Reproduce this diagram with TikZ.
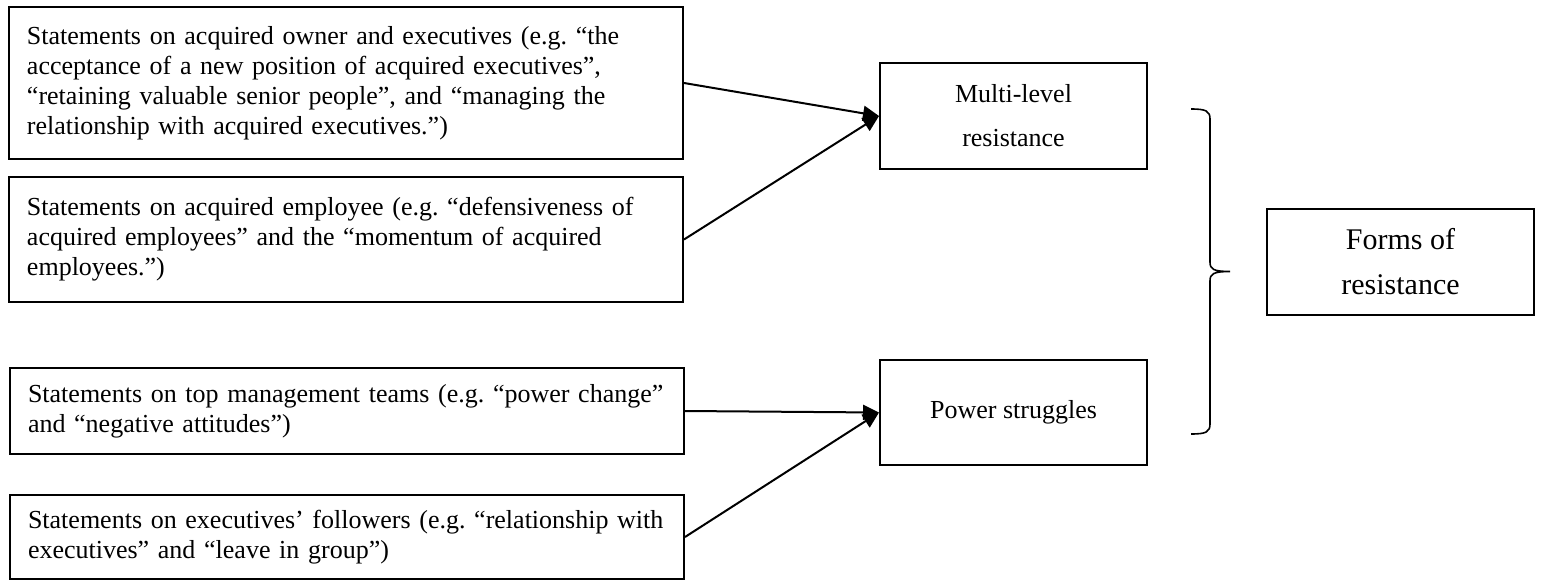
\documentclass[tikz,border=0pt]{standalone}
\usepackage{fontspec}
\setmainfont{Liberation Serif}
\usetikzlibrary{arrows.meta}
\frenchspacing

\begin{document}
\begin{tikzpicture}[x=1pt, y=-1pt,
  srcbox/.style={draw, line width=2pt, inner xsep=18pt, inner ysep=0pt,
    text width=638pt, align=left, font=\fontsize{26}{30}\selectfont\frenchspacing},
  formbox/.style={draw, line width=2pt, inner sep=0pt, minimum width=267pt,
    align=center, font=\fontsize{26}{44}\selectfont},
  sumbox/.style={draw, line width=2pt, inner sep=0pt, minimum width=267pt,
    minimum height=106pt, align=center, font=\fontsize{30}{45}\selectfont},
  link/.style={line width=2pt, -{Triangle[length=16pt,width=15pt]}},
  bracepath/.style={line width=1.6pt}
]
\useasboundingbox (0,0) rectangle (1543,581);

% statement boxes on the left
\node[srcbox, minimum height=152pt] (owner) at (346,83)
  {Statements on acquired owner and executives (e.g. “the\\
   acceptance of a new position of acquired executives”,\\
   “retaining valuable senior people”, and “managing the\\
   relationship with acquired executives.”)};
\node[srcbox, minimum height=125pt] (employee) at (346,239.5)
  {Statements on acquired employee (e.g. “defensiveness of\\
   acquired employees” and the “momentum of acquired\\
   employees.”)};
\node[srcbox, minimum height=86pt] (tmt) at (347,411)
  {\mbox{Statements on top management teams (e.g. “power change”}\\
   and “negative attitudes”)};
\node[srcbox, minimum height=84pt] (followers) at (347,537)
  {\mbox{Statements on executives’ followers (e.g. “relationship with}\\
   executives” and “leave in group”)};

% forms of resistance
\node[formbox, minimum height=106pt] (multi) at (1013.5,116)
  {Multi-level\\resistance};
\node[formbox, minimum height=105pt] (power) at (1013.5,412.5)
  {Power struggles};
\node[sumbox] (forms) at (1400.5,262) {Forms of\\resistance};

% connectors
\draw[link] (owner.east) -- (multi.west);
\draw[link] (employee.east) -- (multi.west);
\draw[link] (tmt.east) -- (power.west);
\draw[link] (followers.east) -- (power.west);

% grouping brace
\coordinate (btop) at (1191,109);
\coordinate (btip) at (1230,271.5);
\coordinate (bbot) at (1191,434);
\draw[bracepath] (btop) .. controls (1206,109) and (1210,111) .. (1210,119)
  -- (1210,262) .. controls (1210,269) and (1213,271.5) .. (btip)
  .. controls (1213,271.5) and (1210,274) .. (1210,281)
  -- (1210,424) .. controls (1210,432) and (1206,434) .. (bbot);
\end{tikzpicture}
\end{document}
